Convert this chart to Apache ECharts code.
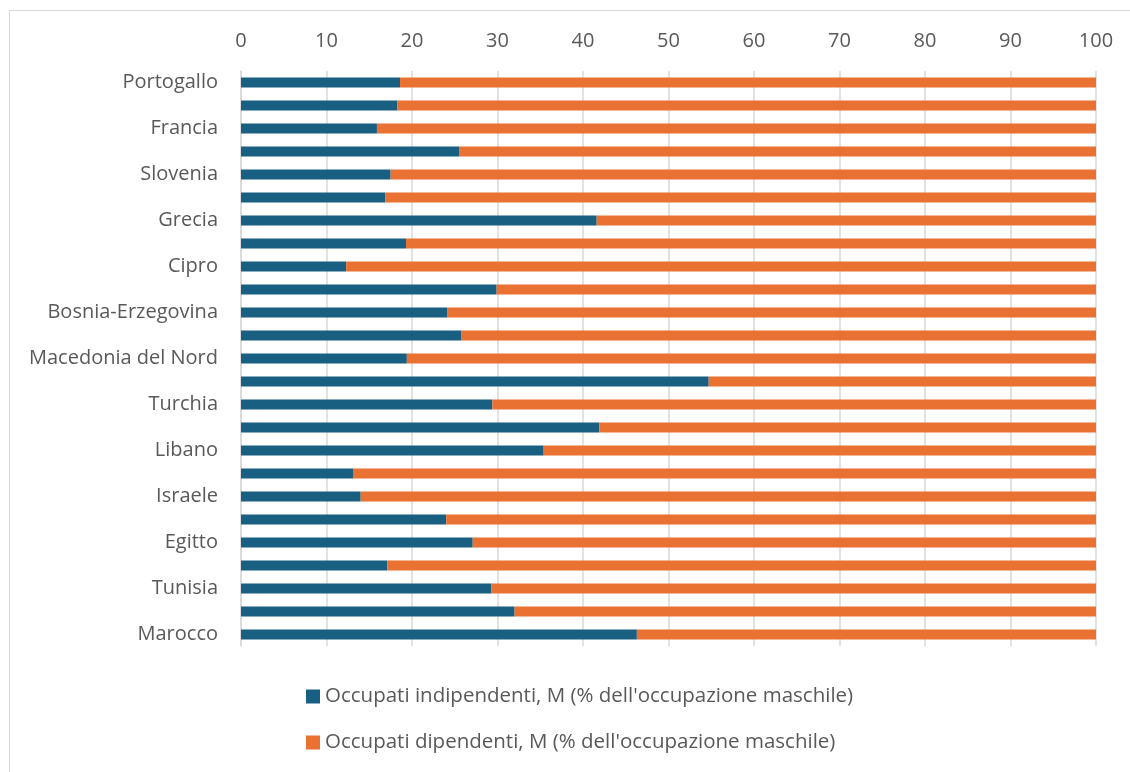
<!DOCTYPE html>
<html>
<head>
<meta charset="utf-8">
<script src="https://cdn.jsdelivr.net/npm/echarts@6/dist/echarts.min.js"></script>
<style>
  html, body { margin: 0; padding: 0; background: #fff; }
  #frame { position: absolute; left: 9px; top: 10px; width: 1130px; height: 780px; border: 1px solid #d9d9d9; box-sizing: border-box; }
  #chart { position: absolute; left: 0; top: 0; width: 1130px; height: 772px; }
</style>
</head>
<body>
<div id="frame"></div>
<div id="chart"></div>
<script>
// paesi dall'alto verso il basso (solo uno su due ha l'etichetta visibile)
const countries = ['Portogallo', 'Spagna', 'Francia', 'Italia', 'Slovenia', 'Croazia', 'Grecia', 'Malta', 'Cipro',
  'Montenegro', 'Bosnia-Erzegovina', 'Serbia', 'Macedonia del Nord', 'Albania', 'Turchia', 'Siria', 'Libano',
  'Giordania', 'Israele', 'Palestina', 'Egitto', 'Libia', 'Tunisia', 'Algeria', 'Marocco'];
const indipendenti = [18.6, 18.3, 15.9, 25.5, 17.5, 16.9, 41.6, 19.3, 12.3,
  29.9, 24.1, 25.8, 19.4, 54.7, 29.4, 41.9, 35.4,
  13.1, 14.0, 24.0, 27.1, 17.1, 29.3, 32.0, 46.3];
const dipendenti = [81.4, 81.7, 84.1, 74.5, 82.5, 83.1, 58.4, 80.7, 87.7,
  70.1, 75.9, 74.2, 80.6, 45.3, 70.6, 58.1, 64.6,
  86.9, 86.0, 76.0, 72.9, 82.9, 70.7, 68.0, 53.7];
const xTicks = [0, 100, 10]; // min, max, intervallo

const names = ["Occupati indipendenti, M (% dell'occupazione maschile)", "Occupati dipendenti, M (% dell'occupazione maschile)"];
const font = 'Open Sans';

let chart = echarts.init(document.getElementById('chart'));
let option = {
  animation: false,
  textStyle: { fontFamily: font },
  grid: { left: 241, right: 34, top: 71, bottom: 126 },
  legend: {
    orient: 'vertical',
    left: 301,
    top: 681,
    itemGap: 25,
    itemWidth: 14,
    itemHeight: 14,
    icon: 'rect',
    textStyle: { color: '#595959', fontSize: 20.5, fontFamily: font },
    data: names
  },
  xAxis: {
    type: 'value',
    position: 'top',
    min: xTicks[0],
    max: xTicks[1],
    interval: xTicks[2],
    axisLine: { show: false },
    axisTick: { show: false },
    axisLabel: { color: '#595959', fontSize: 20, margin: 20 },
    splitLine: { lineStyle: { color: '#d9d9d9', width: 1.5 } }
  },
  yAxis: {
    type: 'category',
    inverse: true,
    data: countries,
    axisLine: { lineStyle: { color: '#d9d9d9', width: 1.5 } },
    axisTick: { show: false },
    axisLabel: { interval: 1, color: '#595959', fontSize: 20, margin: 23 }
  },
  series: [{
    name: names[0],
    type: 'bar',
    stack: 'tot',
    data: indipendenti,
    barWidth: 10,
    itemStyle: { color: '#185f82' }
  }, {
    name: names[1],
    type: 'bar',
    stack: 'tot',
    data: dipendenti,
    barWidth: 10,
    itemStyle: { color: '#e97132' }
  }]
};
chart.setOption(option);
window.addEventListener('resize', function () {
  chart.resize();
});
</script>
</body>
</html>
